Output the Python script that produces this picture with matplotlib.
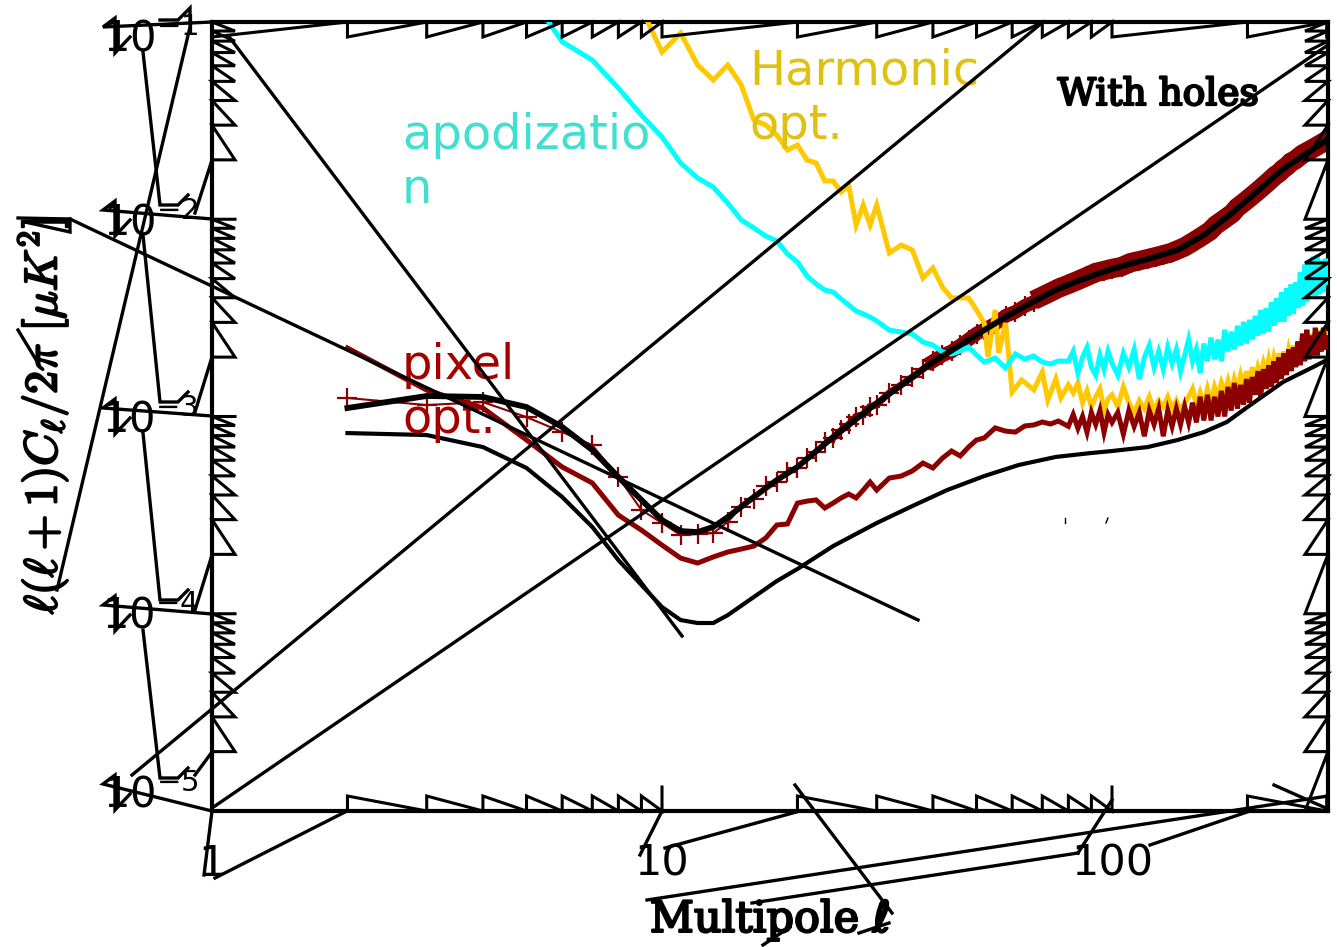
import numpy as np
import matplotlib
matplotlib.use("Agg")
from matplotlib import pyplot as plt
from matplotlib.lines import Line2D
from matplotlib.transforms import ScaledTranslation
import matplotlib.patheffects as pe

W, H = 1337, 947

# multipoles shared by the noisy high l part
ell_hi = [80, 82, 84, 86, 88, 90, 92, 94, 96, 98,
          100, 103, 106, 109, 112, 115, 118, 121, 124, 127,
          130, 133, 136, 139, 142, 145, 148, 151, 154, 157,
          160, 163, 166, 169, 172, 175, 178, 181, 184, 187,
          190, 193, 196, 199, 202, 205, 208, 211, 214, 217,
          220, 223, 226, 229, 232, 235, 238, 241, 244, 247,
          250, 253, 256, 259, 262, 265, 268, 271, 274, 277,
          280, 283, 286, 289, 292, 295, 298, 300]

# black curves, log10 of the spectrum
ell_holes = [2, 3, 4, 5, 6, 7, 8, 9, 10, 11, 12, 13, 14, 16, 18, 20, 24, 30, 36, 40, 46, 52, 58, 66, 75,
             85, 100, 120, 140, 160, 180, 200, 240, 280, 300]
log_holes = [-2.957, -2.896, -2.901, -2.952, -3.053, -3.170, -3.307, -3.423, -3.525, -3.581, -3.586, -3.560,
             -3.510, -3.408, -3.322, -3.256, -3.104, -2.932, -2.800, -2.724, -2.638, -2.562, -2.496, -2.425,
             -2.359, -2.308, -2.252, -2.202, -2.156, -2.080, -1.989, -1.902, -1.745, -1.644, -1.598]

ell_clean = [2, 3, 4, 5, 6, 7, 8, 9, 10, 11, 12, 13, 14, 16, 18, 20, 24, 30, 36, 43, 52, 62, 75, 90, 100,
             120, 140, 160, 180, 200, 240, 280, 300]
log_clean = [-3.084, -3.094, -3.155, -3.261, -3.408, -3.560, -3.728, -3.854, -3.966, -4.032, -4.047, -4.047,
             -4.007, -3.915, -3.834, -3.773, -3.657, -3.540, -3.454, -3.373, -3.302, -3.246, -3.205, -3.185,
             -3.175, -3.155, -3.119, -3.079, -3.028, -2.952, -2.825, -2.749, -2.714]

# thin red crosses, they merge into a band at high l
ell_band = [2, 3, 4, 5, 6, 7, 8, 9, 10, 11, 12, 13, 14, 15, 16, 17, 18, 19, 20, 21, 22, 23, 24, 25, 26, 27,
            28, 29, 30, 32, 34, 36, 38, 40, 42, 44, 46, 48, 50, 52, 55, 58, 61, 64, 67, 70, 73, 76, 80, 84,
            88, 92, 96, 100, 105, 110, 115, 120, 125, 130, 135, 140, 145, 150, 155, 160, 165, 170, 175, 180,
            185, 190, 195, 200, 205, 210, 215, 220, 225, 230, 235, 240, 245, 250, 255, 260, 265, 270, 275,
            280, 285, 290, 295, 300]
log_band = [-2.906, -2.942, -2.927, -3.003, -3.079, -3.145, -3.307, -3.474, -3.540, -3.601, -3.596, -3.591,
            -3.535, -3.46, -3.42, -3.35, -3.33, -3.28, -3.26, -3.21, -3.18, -3.13, -3.11, -3.07, -3.04, -3.00,
            -2.99, -2.95, -2.94, -2.88, -2.84, -2.80, -2.76, -2.72, -2.69, -2.67, -2.64, -2.61, -2.58, -2.56,
            -2.53, -2.49, -2.47, -2.44, -2.42, -2.39, -2.37, -2.35, -2.33, -2.31, -2.29, -2.27, -2.26, -2.25,
            -2.24, -2.22, -2.21, -2.20, -2.19, -2.18, -2.17, -2.155, -2.14, -2.12, -2.10, -2.08, -2.06, -2.03,
            -2.01, -1.99, -1.97, -1.94, -1.92, -1.90, -1.88, -1.86, -1.84, -1.82, -1.80, -1.78, -1.765, -1.745,
            -1.73, -1.71, -1.70, -1.685, -1.67, -1.66, -1.65, -1.64, -1.63, -1.62, -1.61, -1.60]

# pixel opt.
ell_pixel = [2, 3, 4, 5, 6, 7, 8, 9, 10, 11, 12, 13, 14, 15, 16, 17, 18, 19, 20, 21, 22, 23, 24, 25, 26, 27,
             28, 29, 30, 32, 34, 36, 38, 40, 42, 44, 46, 48, 50, 52, 55, 58, 61, 64, 67, 70, 73, 76] + ell_hi
log_pixel = [-2.653, -2.866, -2.957, -3.119, -3.256, -3.337, -3.500, -3.576, -3.652, -3.718, -3.743, -3.712,
             -3.687, -3.672, -3.657, -3.616, -3.550, -3.545, -3.439, -3.429, -3.423, -3.464, -3.439, -3.413,
             -3.393, -3.413, -3.373, -3.332, -3.373, -3.312, -3.302, -3.276, -3.236, -3.261, -3.211, -3.175,
             -3.200, -3.155, -3.119, -3.109, -3.058, -3.074, -3.079, -3.048, -3.043, -3.028, -3.038, -3.023,
             -3.05, -2.99, -3.06, -3.00, -3.08, -2.98, -3.04, -2.97, -3.08, -2.99,
             -3.03, -2.98, -3.09, -2.97, -3.05, -2.98, -3.10, -2.97, -3.04, -2.96,
             -3.10, -2.97, -3.05, -2.96, -3.04, -2.95, -3.03, -2.93, -3.03, -2.90,
             -3.02, -2.89, -3.02, -2.90, -3.00, -2.87, -3.00, -2.85, -2.97, -2.83,
             -2.96, -2.84, -2.94, -2.81, -2.93, -2.80, -2.89, -2.77, -2.90, -2.76,
             -2.86, -2.74, -2.85, -2.72, -2.83, -2.70, -2.81, -2.68, -2.79, -2.66,
             -2.77, -2.65, -2.75, -2.62, -2.74, -2.58, -2.72, -2.56, -2.71, -2.59,
             -2.69, -2.55, -2.69, -2.57, -2.67, -2.55, -2.66, -2.60]

# apodization
ell_apod = [5.6, 6, 7, 8, 9, 10, 11, 12, 13, 14, 15, 16, 17, 18, 19, 20, 21, 22, 23, 24, 25, 26, 27, 28, 29,
            30, 32, 34, 36, 38, 40, 42, 44, 46, 48, 50, 52, 55, 58, 61, 64, 67, 70, 73, 76] + ell_hi
log_apod = [-1.00, -1.10, -1.193, -1.335, -1.472, -1.583, -1.715, -1.791, -1.837, -1.918, -2.004, -2.044,
            -2.085, -2.110, -2.176, -2.217, -2.288, -2.328, -2.359, -2.369, -2.404, -2.435, -2.465, -2.480,
            -2.496, -2.516, -2.562, -2.572, -2.582, -2.622, -2.638, -2.673, -2.683, -2.668, -2.648, -2.688,
            -2.724, -2.704, -2.754, -2.683, -2.709, -2.693, -2.724, -2.734, -2.719,
            -2.72, -2.67, -2.78, -2.70, -2.65, -2.75, -2.79, -2.69, -2.76, -2.67,
            -2.73, -2.79, -2.68, -2.75, -2.66, -2.81, -2.70, -2.64, -2.75, -2.67,
            -2.76, -2.65, -2.73, -2.66, -2.77, -2.69, -2.61, -2.72, -2.66, -2.78,
            -2.63, -2.72, -2.60, -2.71, -2.61, -2.72, -2.56, -2.67, -2.57, -2.66,
            -2.54, -2.64, -2.52, -2.63, -2.51, -2.61, -2.49, -2.59, -2.46, -2.58,
            -2.45, -2.57, -2.42, -2.54, -2.40, -2.52, -2.37, -2.52, -2.35, -2.49,
            -2.33, -2.48, -2.32, -2.45, -2.27, -2.44, -2.23, -2.42, -2.21, -2.40,
            -2.19, -2.40, -2.18, -2.38, -2.21, -2.37, -2.20, -2.32]

# harmonic opt.
ell_harm = [9.3, 10, 11, 12, 13, 14, 15, 16, 17, 18, 19, 20, 21, 22, 23, 24, 25, 26, 27, 28, 29, 30, 32, 34,
            36, 38, 40, 42, 44, 46, 48, 50, 52, 53, 55, 56, 58, 60, 63, 67, 70, 72, 75, 77] + ell_hi
log_harm = [-1.00, -1.152, -1.056, -1.218, -1.294, -1.218, -1.319, -1.497, -1.522, -1.573, -1.649, -1.624,
            -1.700, -1.715, -1.806, -1.806, -1.862, -1.831, -2.029, -1.928, -2.029, -1.928, -2.171, -2.131,
            -2.156, -2.298, -2.247, -2.344, -2.399, -2.399, -2.399, -2.460, -2.526, -2.698, -2.46, -2.678,
            -2.526, -2.876, -2.815, -2.865, -2.775, -2.916, -2.81, -2.905,
            -2.84, -2.88, -2.83, -2.93, -2.87, -2.95, -2.90, -2.86, -2.97, -2.91,
            -2.89, -2.95, -2.85, -2.93, -2.98, -2.92, -2.96, -2.90, -2.97, -2.92,
            -2.95, -2.90, -2.96, -2.92, -2.97, -2.93, -2.90, -2.86, -2.94, -2.88,
            -2.94, -2.86, -2.93, -2.85, -2.90, -2.83, -2.88, -2.82, -2.89, -2.81,
            -2.86, -2.79, -2.85, -2.77, -2.84, -2.75, -2.82, -2.75, -2.79, -2.73,
            -2.78, -2.71, -2.77, -2.70, -2.75, -2.68, -2.74, -2.67, -2.73, -2.66,
            -2.71, -2.64, -2.71, -2.62, -2.69, -2.60, -2.68, -2.60, -2.67, -2.58,
            -2.65, -2.58, -2.64, -2.56, -2.63, -2.55, -2.62, -2.58]

x_ticks = [1, 10, 100]
x_tick_labels = ['1', '10', '100']
y_ticks = [1e-5, 1e-4, 1e-3, 1e-2, 1e-1]
y_tick_labels = [r'$\mathregular{10^{-5}}$', r'$\mathregular{10^{-4}}$', r'$\mathregular{10^{-3}}$',
                 r'$\mathregular{10^{-2}}$', r'$\mathregular{10^{-1}}$']
y_label_drop = [-4, 15, 16, 16, 29]

DARK_RED = '#8b0000'
CYAN = '#00ffff'
GOLD = '#ffc800'

plt.rcParams['mathtext.fontset'] = 'cm'
plt.rcParams['lines.solid_joinstyle'] = 'miter'
plt.rcParams['path.simplify'] = False

fig = plt.figure(figsize=(W / 100, H / 100), dpi=100)
ax = fig.add_axes([212 / W, (H - 811) / H, 1116 / W, 789 / H])
ax.set_xscale('log')
ax.set_yscale('log')
ax.set_xlim(1, 302)
ax.set_ylim(1e-5, 1e-1)
for s in ax.spines.values():
    s.set_linewidth(3)

band_x = np.array(ell_band)
band_y = 10 ** np.array(log_band)
ax.plot(band_x, band_y, color=DARK_RED, lw=1.5, marker='+', ms=14, mew=1.6, zorder=2)
ax.plot(band_x[band_x >= 24], band_y[band_x >= 24], color=DARK_RED, lw=5, zorder=2)
ax.plot(band_x[band_x >= 40], band_y[band_x >= 40], color=DARK_RED, lw=10, zorder=2)
ax.plot(band_x[band_x >= 70], band_y[band_x >= 70], color=DARK_RED, lw=14, zorder=2)
ax.plot(ell_harm, 10 ** np.array(log_harm), color=GOLD, lw=3.6, zorder=3)
ax.plot(ell_apod, 10 ** np.array(log_apod), color=CYAN, lw=3.6, zorder=4)
ax.plot(ell_pixel, 10 ** np.array(log_pixel), color=DARK_RED, lw=3.6, zorder=5)
ax.plot(ell_clean, 10 ** np.array(log_clean), color='black', lw=3, zorder=6)
ax.plot(ell_holes, 10 ** np.array(log_holes), color='black', lw=4.2, zorder=6)

ax.minorticks_off()
ax.set_xticks(x_ticks)
ax.set_xticklabels(x_tick_labels)
ax.set_yticks(y_ticks)
ax.set_yticklabels(y_tick_labels)
ax.minorticks_off()
ax.tick_params(axis='x', length=0, pad=23, labelsize=31)
ax.tick_params(axis='y', length=0, pad=12, labelsize=30)
for lab, drop in zip(ax.get_yticklabels(), y_label_drop):
    lab.set_verticalalignment('baseline')
    lab.set_transform(lab.get_transform() + ScaledTranslation(3 / 100, -drop / 100, fig.dpi_scale_trans))

bold = [pe.withStroke(linewidth=1.6, foreground='black')]
ax.set_ylabel(r'$\ell(\ell+1)C_\ell/2\pi\ [\mu K^2]$', fontsize=33, path_effects=bold, va='center')
ax.yaxis.set_label_coords(-0.152, 0.5)
ax.set_xlabel('Multipole \u2113', fontsize=31, family=['DejaVu Serif', 'DejaVu Sans'], path_effects=bold, va='center')
ax.xaxis.set_label_coords(0.5, -0.138)


def fx(x):
    return x / W


def fy(y):
    return 1 - y / H


fig.text(fx(402), fy(203), 'apodizatio\nn', color='#40e0d0', fontsize=34.5, va='baseline', linespacing=1.2)
fig.text(fx(749), fy(139), 'Harmonic\nopt.', color='#e0c010', fontsize=34.5, va='baseline', linespacing=1.2)
fig.text(fx(402), fy(433), 'pixel\nopt.', color='#a50000', fontsize=34.5, va='baseline', linespacing=1.2)
fig.text(fx(1158), fy(95), 'With holes', fontsize=27, ha='center', va='center', family='DejaVu Serif',
         path_effects=bold, zorder=10)


def stroke(points, lw=2.4):
    xs = [fx(p[0]) for p in points]
    ys = [fy(p[1]) for p in points]
    fig.add_artist(Line2D(xs, ys, color='black', lw=lw, solid_joinstyle='miter', transform=fig.transFigure,
                          zorder=8))


# tick marks are joined up into saw teeth
def saw_y(x_start, length, values):
    xs = []
    ys = []
    for v in values:
        xs += [x_start, x_start + length]
        ys += [v, v]
    ax.plot(xs, ys, color='black', lw=2.2, transform=ax.get_yaxis_transform(), clip_on=False, zorder=7)


def saw_x(y_start, length, values, major=()):
    xs = []
    ys = []
    for v in values:
        tip = y_start + (1.6 * length if v in major else length)
        xs += [v, v]
        ys += [y_start, tip]
    ax.plot(xs, ys, color='black', lw=2.2, transform=ax.get_xaxis_transform(), clip_on=False, zorder=7)


tick_len_y = 23 / 1116
tick_len_x = 15 / 789
y_all = [m * 10.0 ** e for e in range(-5, -1) for m in range(1, 10)] + [1e-1]
x_all = [m * 10.0 ** e for e in range(0, 2) for m in range(1, 10)] + [100.0, 200.0, 300.0]
for e in range(-5, -1):
    saw_y(0, tick_len_y, [m * 10.0 ** e for m in range(2, 10)] + [10.0 ** (e + 1)])
saw_y(1, -tick_len_y, y_all)
for e in range(0, 2):
    saw_x(0, tick_len_x, [m * 10.0 ** e for m in range(2, 10)] + [10.0 ** (e + 1)], major=(10.0, 100.0))
saw_x(0, tick_len_x, [200.0, 300.0])
saw_x(1, -tick_len_x, x_all)

# strokes that run from one piece of text to the next
flag_y = [27, 210, 408, 605, 784]
tick_y = [22, 219, 416, 614, 811]
for fy0, ty in zip(flag_y, tick_y):
    stroke([(212, ty), (103, fy0), (115, fy0 - 9), (115, fy0 + 26), (130, fy0 + 10)])

stroke([(143, 52), (160, 205), (178, 205), (188, 195)])
stroke([(195, 213), (212, 160)])
stroke([(143, 235), (160, 402), (178, 402), (188, 392)])
stroke([(195, 412), (212, 357)])
stroke([(143, 433), (160, 600), (178, 600), (188, 590)])
stroke([(195, 610), (212, 555)])
stroke([(143, 630), (160, 778), (178, 778), (188, 768)])
stroke([(195, 775), (212, 752)])
stroke([(160, 20), (178, 20), (190, 8), (190, 27), (57, 590)])
stroke([(18, 218), (70, 219), (70, 232), (25, 222)])
stroke([(18, 330), (38, 363)])
stroke([(70, 219), (918, 620)])
stroke([(230, 38), (682, 636)])
stroke([(132, 775), (1043, 22)])
stroke([(215, 806), (1328, 45)])
stroke([(212, 811), (204, 875)])
stroke([(215, 878), (347, 811)])
stroke([(662, 811), (640, 855)])
stroke([(665, 848), (800, 811)])
stroke([(1112, 800), (1078, 853)])
stroke([(1150, 845), (1250, 811)])
stroke([(752, 903), (1078, 853)])
stroke([(647, 900), (1328, 796)])
stroke([(795, 785), (892, 913)])
stroke([(889, 923), (859, 933)])
stroke([(1274, 785), (1328, 809)])
stroke([(763, 945), (790, 927)])
stroke([(1065, 518), (1065, 523)], lw=1)
stroke([(1108, 518), (1106, 523)], lw=1)

fig.savefig('out.png', dpi=100)
